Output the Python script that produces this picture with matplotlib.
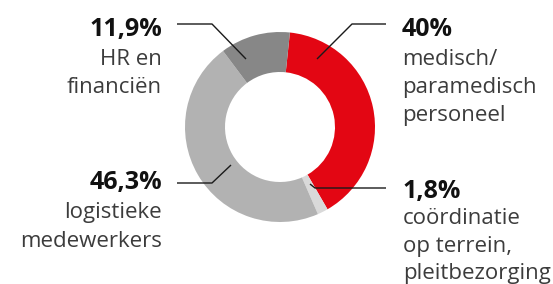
import matplotlib.pyplot as plt

# Verdeling van het personeel
aandelen = [40.0, 1.8, 46.3, 11.9]
percentages = ['40%', '1,8%', '46,3%', '11,9%']
omschrijvingen = [
    ['medisch/', 'paramedisch', 'personeel'],
    ['coördinatie', 'op terrein,', 'pleitbezorging'],
    ['logistieke', 'medewerkers'],
    ['HR en', 'financiën'],
]
kleuren = ['#e30613', '#d9d9d9', '#b2b2b2', '#878787']

W, H = 553, 284
fig = plt.figure(figsize=(W / 100, H / 100), dpi=100)
ax = fig.add_axes([0, 0, 1, 1])

cx, cy, r = 280, H - 127, 95
ax.pie(aandelen, colors=kleuren, startangle=84, counterclock=False,
       center=(cx, cy), radius=r, wedgeprops=dict(width=40, linewidth=0))

# labels: (ankerpunt, knik, einde lijn, tekst x, uitlijning, basislijnen)
layout = [
    ((317, 59), (352, 24), (386, 24), 402, 'left', [36, 65, 93, 121]),
    ((310, 184), (315, 188), (386, 188), 403, 'left', [198, 224, 252, 279]),
    ((231, 165), (212, 183), (177, 183), 162, 'right', [189, 218, 247]),
    ((246, 59), (212, 24), (177, 24), 162, 'right', [36, 65, 93]),
]

for pct, regels, (p0, p1, p2, tx, ha, ys) in zip(percentages, omschrijvingen, layout):
    ax.plot([p0[0], p1[0], p2[0]], [H - p0[1], H - p1[1], H - p2[1]],
            color='#1a1a1a', linewidth=1.0, solid_capstyle='butt')
    ax.text(tx, H - ys[0], pct, ha=ha, va='baseline', fontsize=18,
            fontweight='bold', family='Open Sans', color='#111111')
    for regel, y in zip(regels, ys[1:]):
        ax.text(tx, H - y, regel, ha=ha, va='baseline', fontsize=16,
                family='Open Sans', color='#3c3c3c')

ax.set_xlim(0, W)
ax.set_ylim(0, H)
ax.set_aspect('equal')
ax.axis('off')

fig.savefig('out.png', dpi=100)
